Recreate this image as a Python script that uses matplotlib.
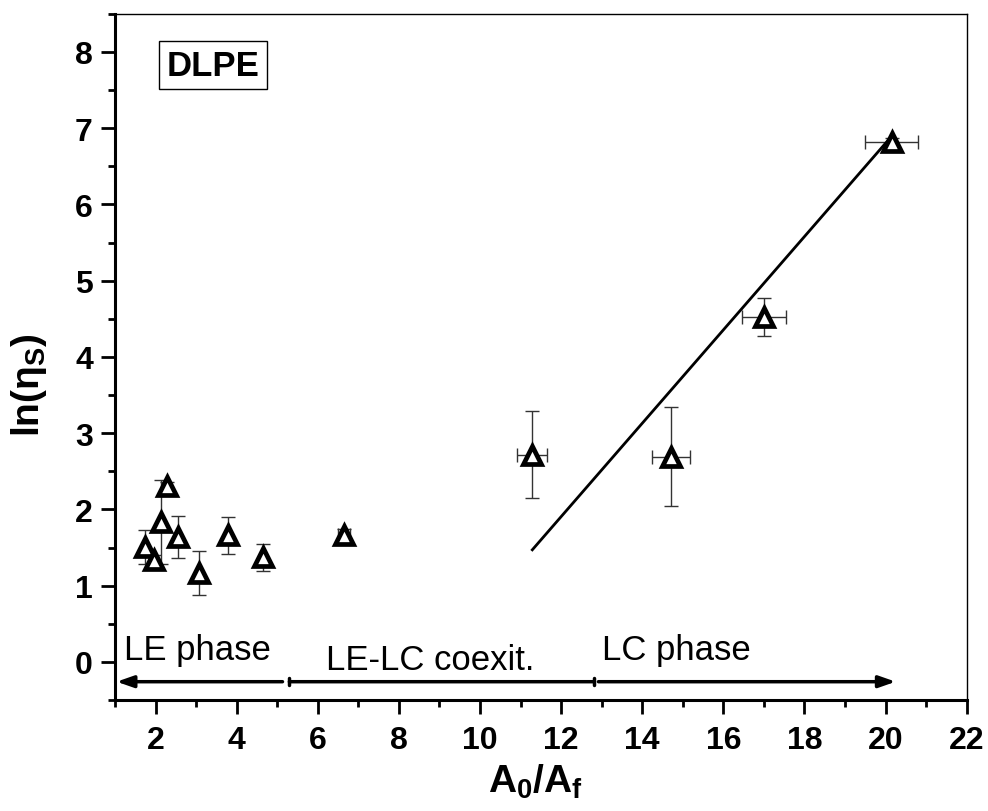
import matplotlib
matplotlib.use("Agg")
import matplotlib.pyplot as plt

plt.rcParams['font.family'] = ['Liberation Sans', 'DejaVu Sans']
plt.rcParams['mathtext.fontset'] = 'custom'
plt.rcParams['mathtext.rm'] = 'Liberation Sans'
plt.rcParams['mathtext.bf'] = 'Liberation Sans:bold'
plt.rcParams['mathtext.it'] = 'Liberation Sans:italic'

# Data (A0/Af, ln(eta_s)) with error bars
x_vals = [1.74, 1.96, 2.13, 2.28, 2.55, 3.07, 3.79, 4.65, 6.65, 11.29, 14.72, 17.0, 20.15]
y_vals = [1.51, 1.34, 1.83, 2.31, 1.64, 1.17, 1.66, 1.37, 1.67, 2.72, 2.69, 4.52, 6.82]
y_err = [0.22, 0.06, 0.55, 0.05, 0.28, 0.29, 0.24, 0.18, 0.07, 0.57, 0.65, 0.25, 0.05]
x_err = [0.0, 0.0, 0.0, 0.0, 0.0, 0.0, 0.0, 0.0, 0.15, 0.37, 0.47, 0.54, 0.65]

# Linear fit line endpoints (LC phase)
fit_x = [11.29, 20.06]
fit_y = [1.47, 6.84]

xticks = [2, 4, 6, 8, 10, 12, 14, 16, 18, 20, 22]
yticks = [0, 1, 2, 3, 4, 5, 6, 7, 8]

# Phase regions
phase_labels = ["LE phase", "LE-LC coexit.", "LC phase"]
phase_label_x = [1.22, 6.2, 13.0]
phase_label_y = [0.16, 0.03, 0.16]
arrow_y = -0.26
le_span = (1.04, 5.13)
coex_span = (5.3, 12.8)
lc_span = (12.92, 20.25)

fig = plt.figure(figsize=(9.88, 8.12), dpi=100)
ax = fig.add_axes([0.1164, 0.1367, 0.862, 0.845])

ax.errorbar(x_vals, y_vals, yerr=y_err, xerr=x_err, fmt='none',
            ecolor='#333333', elinewidth=1.0, capsize=5, capthick=1.0, zorder=2)
ax.plot(x_vals, y_vals, linestyle='none', marker='^', markersize=13.5,
        markerfacecolor='white', markeredgecolor='black', markeredgewidth=3.4, zorder=3)
ax.plot(fit_x, fit_y, color='black', lw=2.0, zorder=2)

# arrows
ax.annotate('', xy=(le_span[0], arrow_y), xytext=(le_span[1], arrow_y),
            arrowprops=dict(arrowstyle='-|>,head_length=1.0,head_width=0.35',
                            lw=2.5, color='black', shrinkA=0, shrinkB=0))
ax.annotate('', xy=(coex_span[0], arrow_y), xytext=(coex_span[1], arrow_y),
            arrowprops=dict(arrowstyle='|-|,widthA=0.25,widthB=0.25',
                            lw=2.5, color='black', shrinkA=0, shrinkB=0))
ax.annotate('', xy=(lc_span[1], arrow_y), xytext=(lc_span[0], arrow_y),
            arrowprops=dict(arrowstyle='-|>,head_length=1.0,head_width=0.35',
                            lw=2.5, color='black', shrinkA=0, shrinkB=0))

for lab, lx, ly in zip(phase_labels, phase_label_x, phase_label_y):
    ax.text(lx, ly, lab, fontsize=25, ha='left', va='center')

ax.text(0.115, 0.925, 'DLPE', transform=ax.transAxes, fontsize=25, fontweight='bold',
        ha='center', va='center',
        bbox=dict(boxstyle='square,pad=0.22', facecolor='white', edgecolor='black', lw=1.0))

ax.set_xlim(1, 22)
ax.set_ylim(-0.5, 8.5)
ax.set_xticks(xticks)
ax.set_yticks(yticks)
ax.set_xticks([x + 1 for x in xticks[:-1]] + [1], minor=True)
ax.set_yticks([y + 0.5 for y in yticks] + [-0.5], minor=True)
ax.tick_params(axis='both', which='major', direction='out', length=10, width=2, labelsize=23)
ax.tick_params(axis='both', which='minor', direction='out', length=5, width=2)
ax.tick_params(axis='x', which='major', pad=8)
ax.tick_params(axis='y', which='major', pad=6)
for lbl in ax.get_xticklabels() + ax.get_yticklabels():
    lbl.set_fontweight('bold')

ax.spines['left'].set_linewidth(2.2)
ax.spines['bottom'].set_linewidth(2.2)
ax.spines['top'].set_linewidth(1.0)
ax.spines['right'].set_linewidth(1.0)

ax.set_xlabel(r'A$_\mathbf{0}$/A$_\mathbf{f}$', fontsize=28, fontweight='bold')
ax.set_ylabel(r'ln(η$_\mathbf{S}$)', fontsize=28, fontweight='bold')
ax.xaxis.set_label_coords(0.494, -0.090)
ax.yaxis.set_label_coords(-0.078, 0.46)

fig.savefig('out.png', dpi=100)
